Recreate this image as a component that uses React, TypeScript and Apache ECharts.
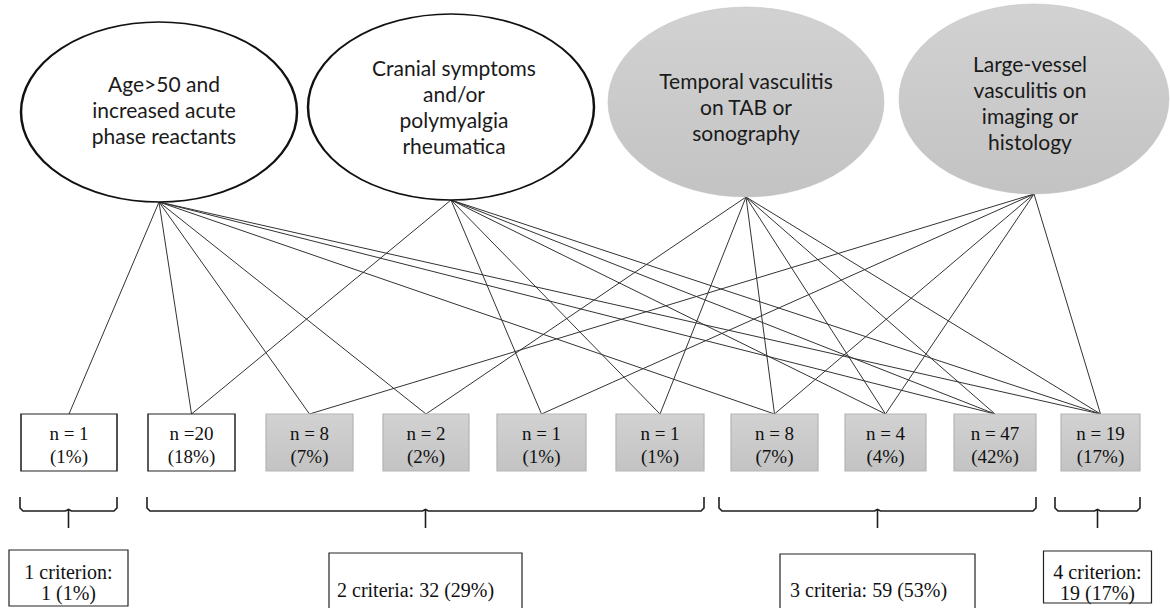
import React, { useEffect, useRef } from "react";
import * as echarts from "echarts";

// ---------------- data ----------------
const criteriaLabels = [
  "Age>50 and\nincreased acute\nphase reactants",
  "Cranial symptoms\nand/or\npolymyalgia\nrheumatica",
  "Temporal vasculitis\non TAB or\nsonography",
  "Large-vessel\nvasculitis on\nimaging or\nhistology",
];
const criteriaShaded = [false, false, true, true];

const groupLabels = ["n = 1", "n =20", "n = 8", "n = 2", "n = 1", "n = 1", "n = 8", "n = 4", "n = 47", "n = 19"];
const groupPercents = ["1%", "18%", "7%", "2%", "1%", "1%", "7%", "4%", "42%", "17%"];
// which criteria (index into criteriaLabels) each patient group fulfils
const groupCriteria = [[0], [0, 1], [0, 3], [0, 2], [1, 3], [1, 2], [0, 2, 3], [1, 2, 3], [0, 1, 2], [0, 1, 2, 3]];

const summaryLabels = ["1 criterion:\n1 (1%)", "2 criteria: 32 (29%)", "3 criteria: 59 (53%)", "4 criterion:\n19 (17%)"];
const summaryGroups = [[0, 0], [1, 5], [6, 8], [9, 9]];

// ---------------- layout (positions / sizes / styles) ----------------
const W = 1170;
const H = 608;
const ELLIPSES = [
  { cx: 159, cy: 112, rx: 138, ry: 90, tdx: 5, tdy: -3 },
  { cx: 451, cy: 107, rx: 143, ry: 93, tdx: 3, tdy: -1 },
  { cx: 746, cy: 102, rx: 138, ry: 95, tdx: 0, tdy: 4 },
  { cx: 1034, cy: 99, rx: 135, ry: 95, tdx: -4, tdy: 3 },
];
const BOX_LEFT = [21, 148, 266, 383, 497, 616, 731, 845, 954, 1061];
const BOX_RIGHT = [117, 235, 353, 469, 586, 704, 818, 926, 1036, 1140];
const BOX_TOP = 414;
const BOX_BOTTOM = 471;
const BRACKET_PAD = [1, 1, 12, 6];
const BRACKET_TOP = 497;
const BRACKET_MID = 511;
const BRACKET_STEM = 528;
const SUMMARY_LAYOUT = [
  { w: 119, y0: 550, y1: 606, align: "center", pad: 0 },
  { w: 193, y0: 553, y1: 640, align: "left", pad: 8 },
  { w: 195, y0: 554, y1: 640, align: "left", pad: 10 },
  { w: 108, y0: 551, y1: 603, align: "center", pad: 0 },
];
const SANS = "Lato, 'Open Sans', sans-serif";
const SERIF = "'Liberation Serif', 'Times New Roman', serif";
const LINE_COLOR = "#333333";
const GRAY = new echarts.graphic.LinearGradient(0, 0, 0, 1, [
  { offset: 0, color: "#d2d2d2" },
  { offset: 1, color: "#c3c3c3" },
]);
const ELLIPSE_PATH = "path://M0 50A50 50 0 1 1 100 50A50 50 0 1 1 0 50Z";

function bracketX(i: number) {
  const [g0, g1] = summaryGroups[i];
  const xl = BOX_LEFT[g0] - BRACKET_PAD[i];
  const xr = BOX_RIGHT[g1];
  return { xl, xr, xm: (xl + xr) / 2 };
}

function buildGraph() {
  const nodes: any[] = [];
  const links: any[] = [];
  const ellipseAnchor: number[] = [];
  ELLIPSES.forEach((e, i) => {
    nodes.push({
      id: "crit" + i,
      value: [e.cx, e.cy],
      symbol: ELLIPSE_PATH,
      symbolSize: [e.rx * 2, e.ry * 2],
      itemStyle: criteriaShaded[i]
        ? { color: GRAY, borderColor: "#c0c0c0", borderWidth: 0.5 }
        : { color: "#ffffff", borderColor: "#111111", borderWidth: 2 },
      label: {
        show: true,
        position: "inside",
        offset: [e.tdx, e.tdy],
        formatter: criteriaLabels[i],
        fontFamily: SANS,
        fontSize: 21,
        lineHeight: 26,
        color: "#1a1a1a",
      },
    });
  });
  ELLIPSES.forEach((e, i) => {
    ellipseAnchor.push(nodes.length);
    nodes.push({ id: "critAnchor" + i, value: [e.cx, e.cy + e.ry], symbolSize: 0, label: { show: false } });
  });
  groupLabels.forEach((lab, i) => {
    const cx = (BOX_LEFT[i] + BOX_RIGHT[i]) / 2;
    const cy = (BOX_TOP + BOX_BOTTOM) / 2;
    const shaded = groupCriteria[i].some((c) => criteriaShaded[c]);
    nodes.push({
      id: "group" + i,
      value: [cx, cy],
      symbol: "rect",
      symbolSize: [BOX_RIGHT[i] - BOX_LEFT[i], BOX_BOTTOM - BOX_TOP],
      itemStyle: shaded
        ? { color: GRAY, borderColor: "#b5b5b5", borderWidth: 1 }
        : { color: "#ffffff", borderColor: "#222222", borderWidth: 1.2 },
      label: {
        show: true,
        position: "inside",
        offset: [0, 2],
        formatter: lab + "\n(" + groupPercents[i] + ")",
        fontFamily: SERIF,
        fontSize: 19,
        lineHeight: 23,
        color: "#111111",
      },
    });
  });
  groupLabels.forEach((_, i) => {
    const cx = (BOX_LEFT[i] + BOX_RIGHT[i]) / 2;
    const idx = nodes.length;
    nodes.push({ id: "groupAnchor" + i, value: [cx, BOX_TOP], symbolSize: 0, label: { show: false } });
    groupCriteria[i].forEach((c) => {
      links.push({ source: ellipseAnchor[c], target: idx });
    });
  });
  return { nodes, links };
}

export default function App() {
  const ref = useRef<HTMLDivElement>(null);
  useEffect(() => {
    if (!ref.current) return;
    const chart = echarts.init(ref.current, undefined, { renderer: "svg" });
    const { nodes, links } = buildGraph();
    const option: any = {
      animation: false,
      backgroundColor: "#ffffff",
      grid: { left: 0, right: 0, top: 0, bottom: 0 },
      xAxis: { type: "value", min: 0, max: W, show: false },
      yAxis: { type: "value", min: 0, max: H, inverse: true, show: false },
      series: [
        {
          type: "custom",
          silent: true,
          z: 1,
          data: summaryGroups.map((_, i) => [i, 0]),
          renderItem: (params: any, api: any) => {
            const i = params.dataIndex;
            const { xl, xr, xm } = bracketX(i);
            const p = (x: number, y: number) => api.coord([x, y]);
            const style = { stroke: "#1e1e1e", lineWidth: 1.6, fill: null };
            return {
              type: "group",
              children: [
                {
                  type: "polyline",
                  shape: {
                    points: [
                      p(xl, BRACKET_TOP),
                      p(xl, BRACKET_MID - 3),
                      p(xl + 3, BRACKET_MID),
                      p(xm - 3, BRACKET_MID),
                      p(xm, BRACKET_MID - 1.5),
                      p(xm + 3, BRACKET_MID),
                      p(xr - 3, BRACKET_MID),
                      p(xr, BRACKET_MID - 3),
                      p(xr, BRACKET_TOP),
                    ],
                  },
                  style,
                },
                {
                  type: "line",
                  shape: (() => {
                    const a = p(xm, BRACKET_MID - 1.5);
                    const b = p(xm, BRACKET_STEM);
                    return { x1: a[0], y1: a[1], x2: b[0], y2: b[1] };
                  })(),
                  style,
                },
              ],
            };
          },
        },
        {
          type: "custom",
          silent: true,
          z: 1,
          data: summaryLabels.map((_, i) => [i, 0]),
          renderItem: (params: any, api: any) => {
            const i = params.dataIndex;
            const L = SUMMARY_LAYOUT[i];
            const { xm } = bracketX(i);
            const tl = api.coord([xm - L.w / 2, L.y0]);
            const br = api.coord([xm + L.w / 2, L.y1]);
            const textY = L.align === "center" ? 582 : 590;
            const tp = api.coord([L.align === "center" ? xm : xm - L.w / 2 + L.pad, textY]);
            return {
              type: "group",
              children: [
                {
                  type: "rect",
                  shape: { x: tl[0], y: tl[1], width: br[0] - tl[0], height: br[1] - tl[1] },
                  style: { fill: "#ffffff", stroke: "#222222", lineWidth: 1.2 },
                },
                {
                  type: "text",
                  style: {
                    text: summaryLabels[i],
                    x: tp[0],
                    y: tp[1],
                    align: L.align,
                    verticalAlign: "middle",
                    fontFamily: SERIF,
                    fontSize: 20,
                    lineHeight: 21,
                    fill: "#111111",
                  },
                },
              ],
            };
          },
        },
        {
          type: "graph",
          coordinateSystem: "cartesian2d",
          layout: "none",
          silent: true,
          z: 2,
          data: nodes,
          links,
          edgeSymbol: ["none", "none"],
          lineStyle: { color: LINE_COLOR, width: 1, opacity: 1, curveness: 0 },
          emphasis: { disabled: true },
        },
      ],
    };
    chart.setOption(option);
    return () => chart.dispose();
  }, []);
  return (
    <div
      ref={ref}
      style={{ position: "absolute", left: 0, top: 0, width: W, height: H, background: "#ffffff" }}
    />
  );
}
